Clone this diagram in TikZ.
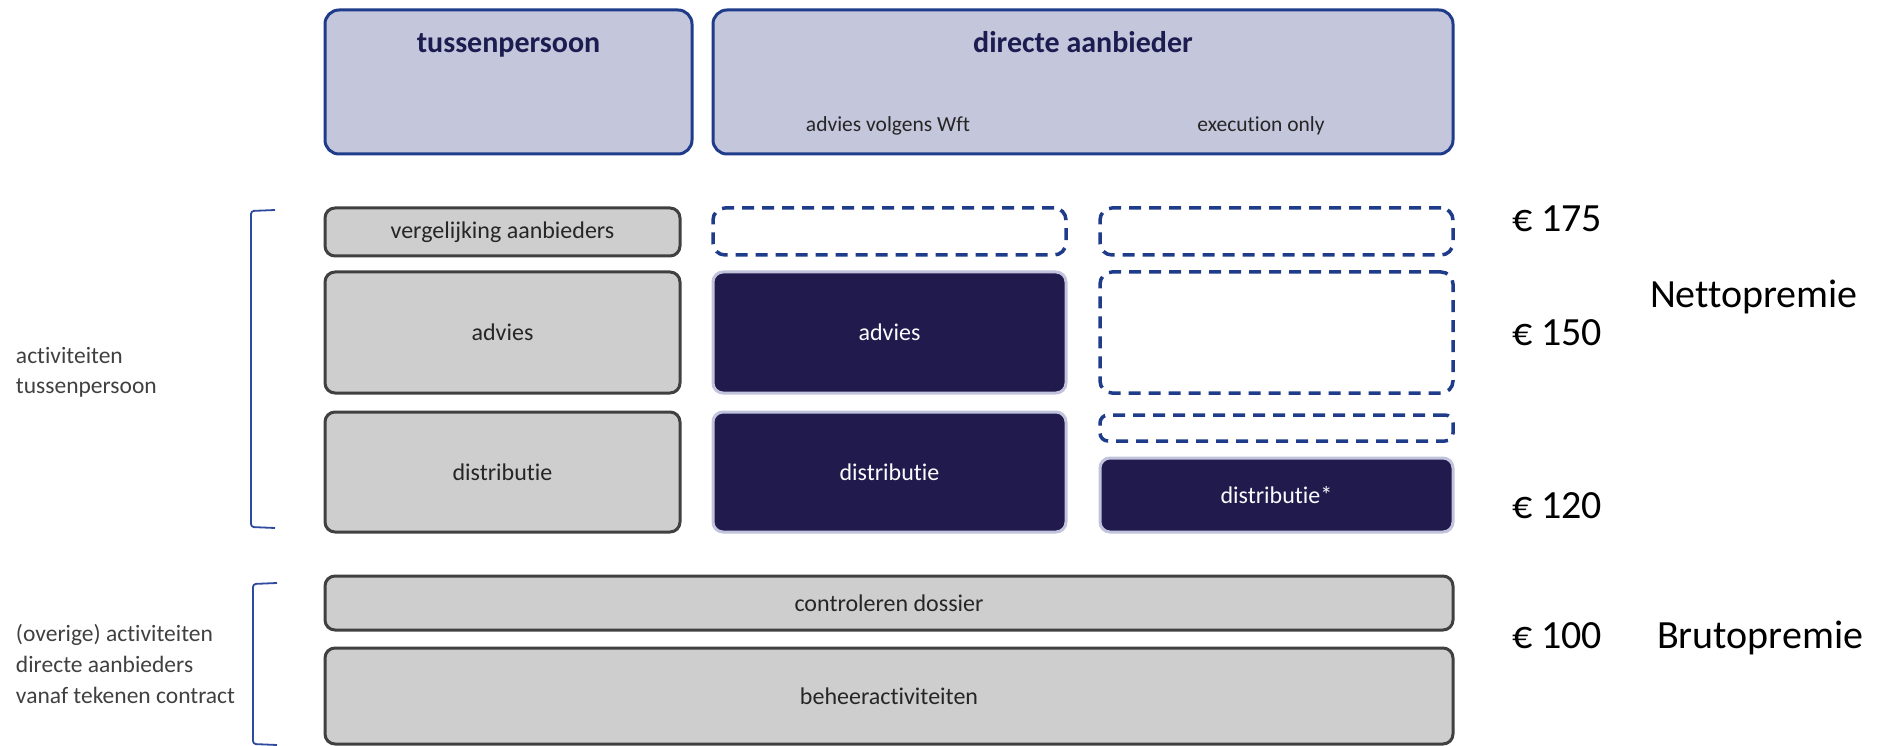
\documentclass[tikz,border=0pt]{standalone}
\usepackage{fontspec}
\setmainfont{Carlito}[Ligatures={NoCommon,NoContextual,NoRare}]
\definecolor{titlefill}{HTML}{C4C6DC}
\definecolor{titleline}{HTML}{1F3C8A}
\definecolor{titletext}{HTML}{1C1C50}
\definecolor{grayfill}{HTML}{CDCECD}
\definecolor{grayline}{HTML}{404040}
\definecolor{graytext}{HTML}{262626}
\definecolor{navyfill}{HTML}{211A4D}
\definecolor{navyline}{HTML}{C0C3DB}
\definecolor{dashline}{HTML}{1F3C8A}
\definecolor{bracketline}{HTML}{2E4A9E}
\definecolor{labeltext}{HTML}{404040}
\begin{document}
\begin{tikzpicture}[x=1pt,y=-1pt,
  every node/.style={inner sep=0pt, outer sep=0pt},
  titlebox/.style={draw=titleline, fill=titlefill, line width=3pt, rounded corners=14pt},
  graybox/.style={draw=grayline, fill=grayfill, line width=3pt, rounded corners=10pt,
    text=graytext, font=\fontsize{24}{28}\selectfont},
  navybox/.style={draw=navyline, fill=navyfill, line width=3pt, rounded corners=10pt,
    text=white!94!navyline, font=\fontsize{24}{28}\selectfont},
  emptybox/.style={draw=dashline, line width=3.5pt, rounded corners=12pt,
    dash pattern=on 12pt off 8pt},
  titletxt/.style={text=titletext, font=\fontsize{30}{34}\bfseries\selectfont, anchor=base},
  subtxt/.style={text=graytext, font=\fontsize{21.5}{26}\selectfont, anchor=base},
  sidelabel/.style={text=labeltext, align=left, anchor=base west,
    font=\fontsize{23.5}{31}\selectfont},
  amount/.style={text=black, font=\fontsize{40}{44}\selectfont, anchor=base west},
  bracket/.style={draw=bracketline, line width=1.8pt, rounded corners=3pt}
]
\useasboundingbox (0,0) rectangle (1883,746);

% column headers
\node[titlebox, minimum width=367pt, minimum height=144pt] (tp) at (508.5,82) {};
\node[titlebox, minimum width=740pt, minimum height=144pt] (da) at (1083,82) {};
\node[titletxt] (tptxt) at (508.5,53) {tussenpersoon};
\node[titletxt] (datxt) at (1083,53) {directe aanbieder};
\node[subtxt] (wft) at (888,132) {advies volgens Wft};
\node[subtxt] (eo) at (1261,132) {execution only};

% activities of the intermediary
\node[graybox, minimum width=355pt, minimum height=48pt] (verg) at (502.5,232) {vergelijking aanbieders};
\node[graybox, minimum width=355pt, minimum height=121pt] (advg) at (502.5,332.5) {advies};
\node[graybox, minimum width=355pt, minimum height=120pt] (distg) at (502.5,472) {distributie};

% direct provider, advice according to Wft
\node[emptybox, minimum width=353pt, minimum height=47pt] (e1) at (889.5,231.5) {};
\node[navybox, minimum width=353pt, minimum height=121pt] (advn) at (889.5,332.5) {advies};
\node[navybox, minimum width=353pt, minimum height=120pt] (distn) at (889.5,472) {distributie};

% direct provider, execution only
\node[emptybox, minimum width=353pt, minimum height=47pt] (e2) at (1276.5,231.5) {};
\node[emptybox, minimum width=353pt, minimum height=121pt] (e3) at (1276.5,332.5) {};
\node[emptybox, rounded corners=8pt, minimum width=353pt, minimum height=26pt] (e4) at (1276.5,428) {};
\node[navybox, minimum width=353pt, minimum height=74pt] (diste) at (1276.5,495) {distributie*};

% shared activities after signing
\node[graybox, minimum width=1128pt, minimum height=54pt] (ctrl) at (889,603) {controleren dossier};
\node[graybox, minimum width=1128pt, minimum height=96pt] (beheer) at (889,696) {beheeractiviteiten};

% brackets and their labels (base anchor sits on the last line)
\draw[bracket] (275,210) -- (251,211) -- (251,527) -- (275,528);
\draw[bracket] (277,583) -- (253,584) -- (253,744) -- (277,745);
\node[sidelabel, font=\fontsize{23.5}{30}\selectfont] (lab1) at (16,393) {activiteiten\\tussenpersoon};
\node[sidelabel] (lab2) at (16,703) {(overige) activiteiten\\directe aanbieders\\vanaf tekenen contract};

% premium amounts
\node[amount] (p175) at (1512,232) {€ 175};
\node[amount] (p150) at (1512,345) {€ 150};
\node[amount] (p120) at (1512,518) {€ 120};
\node[amount] (p100) at (1512,648) {€ 100};
\node[amount] (netto) at (1650,308) {Nettopremie};
\node[amount] (bruto) at (1657,648) {Brutopremie};
\end{tikzpicture}
\end{document}
